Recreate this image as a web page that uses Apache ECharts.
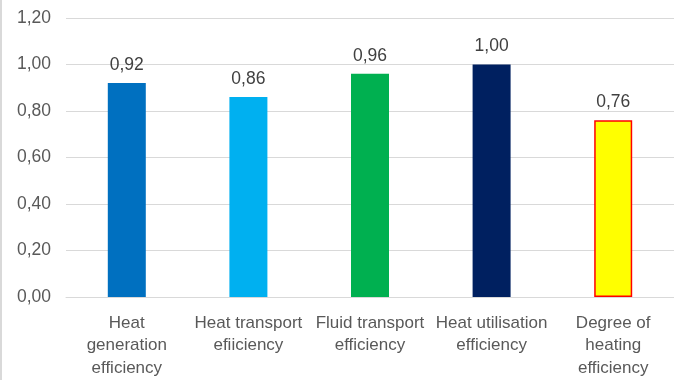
<!DOCTYPE html>
<html><head><meta charset="utf-8">
<script src="https://cdn.jsdelivr.net/npm/echarts@6/dist/echarts.min.js"></script>
<style>html,body{margin:0;padding:0;background:#fff}#c{width:674px;height:380px}</style>
</head><body><div id="c"></div>
<script>
const categories = ["Heat\ngeneration\nefficiency", "Heat transport\nefiiciency", "Fluid transport\nefficiency", "Heat utilisation\nefficiency", "Degree of\nheating\nefficiency"];
const values = [0.92, 0.86, 0.96, 1.00, 0.76];
const barColors = ["#0070C0", "#00B0F0", "#00B050", "#002060", "#FFFF00"];
const barBorders = [null, null, null, null, "#FF0000"];
const fmt = v => v.toFixed(2).replace('.', ',');
const chart = echarts.init(document.getElementById('c'), null, {renderer: 'canvas'});
const FONT = 'Liberation Sans';
chart.setOption({
  animation: false,
  grid: {left: 66, right: 0, top: 18, bottom: 83, containLabel: false},
  xAxis: {
    type: 'category', data: categories,
    axisLine: {show: true, lineStyle: {color: '#D9D9D9'}},
    axisTick: {show: false},
    axisLabel: {interval: 0, color: '#595959', fontFamily: FONT, fontSize: 17, lineHeight: 22.5, margin: 15}
  },
  yAxis: {
    type: 'value', min: 0, max: 1.2, interval: 0.2,
    axisLine: {show: false}, axisTick: {show: false},
    splitLine: {lineStyle: {color: '#D9D9D9'}},
    axisLabel: {color: '#595959', fontFamily: FONT, fontSize: 17.5, margin: 15, formatter: fmt}
  },
  series: [{
    type: 'bar', barWidth: 38,
    data: values.map((v, i) => ({value: v, itemStyle: {color: barColors[i], borderColor: barBorders[i] || barColors[i], borderWidth: barBorders[i] ? 1.5 : 0}})),
    label: {show: true, position: 'top', distance: 9, color: '#404040', fontFamily: FONT, fontSize: 17.5, formatter: p => fmt(p.value)}
  }],
  graphic: [{type: 'line', shape: {x1: 1, y1: 0, x2: 1, y2: 380}, style: {stroke: '#D9D9D9', lineWidth: 2}}]
});
</script></body></html>
